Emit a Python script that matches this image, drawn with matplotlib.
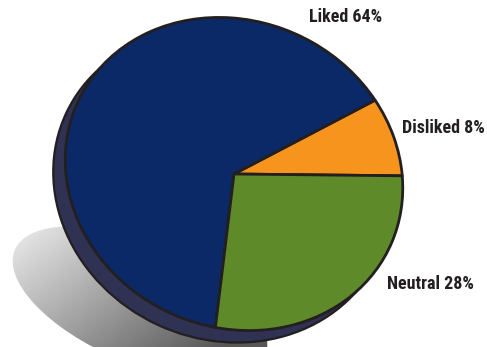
import numpy as np
import matplotlib
matplotlib.use("Agg")
import matplotlib.pyplot as plt
from matplotlib.patches import Ellipse
from matplotlib.transforms import Affine2D

# Survey results
labels = ["Disliked", "Liked", "Neutral"]
shares = [8, 64, 28]
colors = ["#f7941d", "#0a2966", "#5e8a2a"]

W, H = 487, 347
fig = plt.figure(figsize=(W / 100, H / 100), dpi=100)
ax = fig.add_axes([0, 0, 1, 1])

# Disc geometry in pixel units (y pointing up)
cx, cy = 234, H - 174
a, b = 172, 153
tilt = -25
depth = (-12, -12)
ink = "#231f20"

# Soft floor shadow: grey gradient clipped to a tilted ellipse
shadow = Ellipse((140, H - 303), 272, 120, angle=-23, facecolor="none",
                 edgecolor="none", transform=ax.transData)
ax.add_patch(shadow)
gx, gy = np.meshgrid(np.linspace(0, 1, 300), np.linspace(0, 1, 200))
t = np.clip(0.8 * gx + 0.5 * (1 - gy) - 0.12, 0, 1)
grad = 0.92 - 0.58 * t
img = ax.imshow(grad, cmap="gray", vmin=0, vmax=1, origin="lower",
                extent=(0, 290, 0, 140), interpolation="bilinear",
                aspect="auto", zorder=1)
img.set_clip_path(shadow)

# Thickness of the disc
side = Ellipse((cx + depth[0], cy + depth[1]), 2 * a, 2 * b, angle=tilt,
               facecolor="#2f3252", edgecolor=ink, linewidth=1.6, zorder=2)
ax.add_patch(side)

# Top face of the disc
wedges, texts = ax.pie(shares, colors=colors, startangle=27,
                       counterclock=True,
                       wedgeprops=dict(edgecolor=ink, linewidth=2.0,
                                       joinstyle="round"))
disc = Affine2D().scale(a, b).rotate_deg(tilt).translate(cx, cy)
for w in wedges:
    w.set_transform(disc + ax.transData)
    w.set_zorder(3)
for tx in texts:
    tx.set_visible(False)

ax.set_aspect("auto")
ax.set_xlim(0, W)
ax.set_ylim(0, H)
ax.axis("off")

# Category labels
label_pos = {"Liked": (346, 17), "Disliked": (443, 128), "Neutral": (430, 284)}
for name, pct in zip(labels, shares):
    x, y = label_pos[name]
    ax.text(x, H - y, f"{name} {pct}%", ha="center", va="center",
            fontsize=13, fontweight="bold", color=ink,
            family=["Roboto Condensed", "Roboto", "DejaVu Sans"], zorder=5)

fig.savefig("out.png", dpi=100, facecolor="white")
